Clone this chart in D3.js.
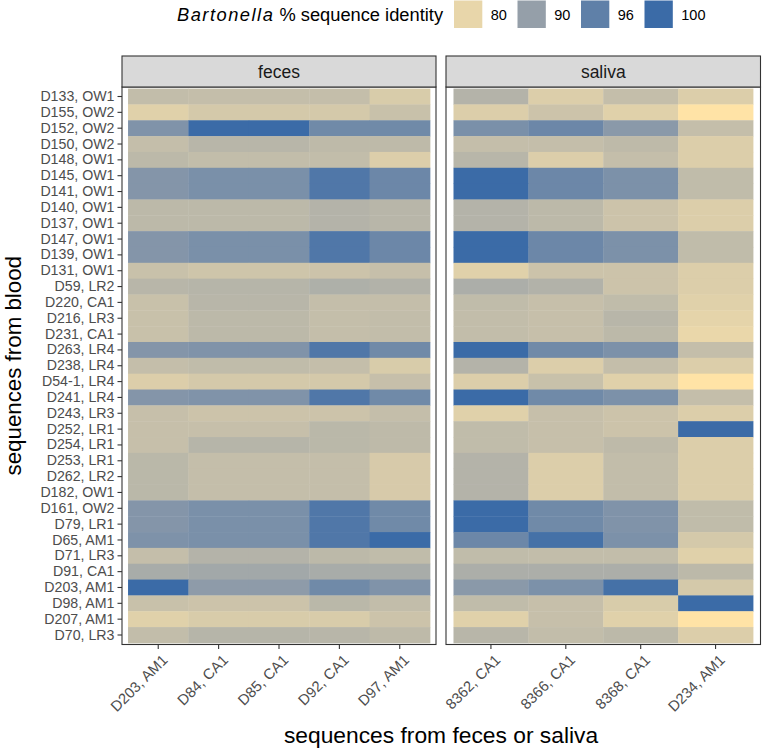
<!DOCTYPE html>
<html>
<head>
<meta charset="utf-8">
<script src="https://cdn.jsdelivr.net/npm/d3@7"></script>
<style>
  body { margin: 0; background: #fff; }
  svg { display: block; font-family: "Liberation Sans", Arial, Helvetica, sans-serif; }
</style>
</head>
<body>
<svg id="chart" width="762" height="752"></svg>
<script>
// ---------------- data ----------------
const rows = ["D133, OW1","D155, OW2","D152, OW2","D150, OW2","D148, OW1","D145, OW1","D141, OW1",
  "D140, OW1","D137, OW1","D147, OW1","D139, OW1","D131, OW1","D59, LR2","D220, CA1","D216, LR3",
  "D231, CA1","D263, LR4","D238, LR4","D54-1, LR4","D241, LR4","D243, LR3","D252, LR1","D254, LR1",
  "D253, LR1","D262, LR2","D182, OW1","D161, OW2","D79, LR1","D65, AM1","D71, LR3","D91, CA1",
  "D203, AM1","D98, AM1","D207, AM1","D70, LR3"];

const fecesCols = ["D203, AM1","D84, CA1","D85, CA1","D92, CA1","D97, AM1"];
const salivaCols = ["8362, CA1","8366, CA1","8368, CA1","D234, AM1"];

// % identity, one inner array per blood row, in column order
const fecesValues = [
  [84.6, 84.3, 84.3, 84.3, 81.9],
  [81.0, 82.4, 82.4, 82.4, 83.9],
  [92.3, 100, 100, 94.1, 94.1],
  [84.3, 85.8, 85.8, 85.1, 85.1],
  [85.3, 84.6, 84.6, 84.6, 81.4],
  [91.9, 93.0, 93.0, 97.7, 94.6],
  [91.9, 93.0, 93.0, 97.7, 94.6],
  [85.3, 85.3, 85.3, 86.3, 85.8],
  [85.3, 85.3, 85.3, 86.3, 85.8],
  [91.9, 93.0, 93.0, 97.7, 94.6],
  [91.9, 93.0, 93.0, 97.7, 94.6],
  [83.9, 83.1, 83.1, 83.4, 84.1],
  [85.8, 86.0, 86.0, 87.0, 86.5],
  [83.9, 85.8, 85.8, 84.3, 84.3],
  [83.9, 85.3, 85.3, 84.3, 84.6],
  [83.9, 85.3, 85.3, 84.3, 84.6],
  [91.9, 92.3, 92.3, 97.7, 94.1],
  [84.3, 84.8, 84.8, 84.3, 81.9],
  [81.4, 82.4, 82.4, 82.4, 84.1],
  [91.9, 92.3, 92.3, 97.7, 94.1],
  [84.1, 83.4, 83.4, 83.4, 84.3],
  [84.1, 84.1, 84.1, 85.5, 85.1],
  [84.1, 86.0, 86.0, 85.5, 85.1],
  [85.5, 84.3, 84.3, 84.3, 82.1],
  [85.5, 84.3, 84.3, 84.3, 82.1],
  [85.5, 84.3, 84.3, 84.3, 82.1],
  [91.9, 93.0, 93.0, 97.7, 94.1],
  [91.9, 93.0, 93.0, 97.7, 94.1],
  [92.6, 93.0, 93.0, 97.7, 100],
  [84.3, 86.3, 86.3, 85.3, 84.8],
  [87.7, 88.4, 88.4, 87.7, 87.7],
  [100, 90.8, 90.8, 94.1, 92.3],
  [83.9, 83.4, 83.4, 85.5, 84.6],
  [81.0, 81.9, 81.9, 81.9, 83.4],
  [84.6, 86.0, 86.0, 85.8, 85.1]
];

const salivaValues = [
  [86.3, 81.4, 84.3, 81.4],
  [81.4, 83.4, 81.0, 77.0],
  [93.0, 94.6, 91.2, 84.3],
  [84.3, 84.3, 85.1, 81.4],
  [85.8, 81.4, 84.3, 81.4],
  [100, 94.6, 92.8, 84.8],
  [100, 94.6, 92.8, 84.8],
  [86.3, 85.3, 83.4, 81.4],
  [86.3, 85.3, 83.4, 81.4],
  [100, 94.6, 92.8, 84.8],
  [100, 94.6, 92.8, 84.8],
  [81.0, 83.4, 83.4, 81.4],
  [87.2, 86.5, 83.4, 81.4],
  [84.8, 84.1, 84.8, 81.0],
  [84.6, 84.1, 85.8, 80.4],
  [84.6, 84.1, 85.3, 79.8],
  [100, 94.1, 92.8, 84.3],
  [86.3, 81.4, 84.3, 81.4],
  [81.4, 83.9, 81.0, 77.0],
  [100, 94.1, 92.8, 84.3],
  [81.0, 84.1, 83.4, 81.4],
  [84.8, 84.1, 83.4, 100],
  [84.8, 84.1, 85.1, 81.4],
  [86.3, 81.4, 84.6, 81.4],
  [86.3, 81.4, 84.6, 81.4],
  [86.3, 81.4, 84.6, 81.4],
  [100, 94.1, 92.3, 84.8],
  [100, 94.1, 92.3, 84.8],
  [94.6, 98.9, 92.8, 82.4],
  [84.8, 84.6, 84.6, 81.0],
  [87.2, 87.2, 87.2, 85.3],
  [91.2, 92.8, 98.9, 82.4],
  [84.8, 84.1, 81.9, 100],
  [81.0, 84.1, 81.0, 77.0],
  [85.8, 84.6, 85.3, 81.4]
];

const legendValues = [80, 90, 96, 100];
const colorStops = [77, 80, 90, 96, 100];
const colorRange = ["#FFE3A6", "#E8D6AA", "#959FA9", "#5F80A8", "#3B6BA7"];

// ---------------- layout ----------------
const svg = d3.select("#chart");
const panelTop = 87, panelBottom = 644.5, stripTop = 56;
const panels = [
  { name: "feces", cols: fecesCols, values: fecesValues, x0: 122, x1: 436 },
  { name: "saliva", cols: salivaCols, values: salivaValues, x0: 446, x1: 760.5 }
];

const color = d3.scaleLinear().domain(colorStops).range(colorRange)
  .interpolate(d3.interpolateRgb).clamp(true);

const y = d3.scaleBand().domain(rows).range([panelTop, panelBottom])
  .paddingInner(0).paddingOuter(0.1);

panels.forEach((p, pi) => {
  const x = d3.scaleBand().domain(p.cols).range([p.x0, p.x1])
    .paddingInner(0).paddingOuter(0.1);
  const cells = [];
  rows.forEach((r, i) => p.cols.forEach((c, j) => cells.push({ r, c, v: p.values[i][j] })));

  const g = svg.append("g");
  g.selectAll("rect.cell").data(cells).enter().append("rect")
    .attr("class", "cell")
    .attr("x", d => x(d.c))
    .attr("y", d => y(d.r))
    .attr("width", x.bandwidth() + 0.4)
    .attr("height", y.bandwidth() + 0.4)
    .attr("fill", d => color(d.v));

  // panel border
  g.append("rect").attr("x", p.x0).attr("y", panelTop)
    .attr("width", p.x1 - p.x0).attr("height", panelBottom - panelTop)
    .attr("fill", "none").attr("stroke", "#333333").attr("stroke-width", 1.1);

  // strip
  g.append("rect").attr("x", p.x0).attr("y", stripTop)
    .attr("width", p.x1 - p.x0).attr("height", panelTop - stripTop)
    .attr("fill", "#D9D9D9").attr("stroke", "#333333").attr("stroke-width", 1.1);
  g.append("text").attr("x", (p.x0 + p.x1) / 2).attr("y", (stripTop + panelTop) / 2)
    .attr("dy", "0.35em").attr("text-anchor", "middle")
    .attr("font-size", 17.5).attr("fill", "#1A1A1A").text(p.name);

  // x axis
  const xa = svg.append("g").attr("transform", `translate(0,${panelBottom})`)
    .call(d3.axisBottom(x).tickSize(4.5).tickPadding(2));
  xa.select(".domain").remove();
  xa.selectAll(".tick line").attr("stroke", "#333333").attr("stroke-width", 1.1);
  xa.selectAll(".tick text")
    .attr("font-size", 14.8).attr("fill", "#4D4D4D")
    .attr("text-anchor", "end")
    .attr("x", 0).attr("y", 0).attr("dy", "0.7em")
    .attr("transform", "translate(3,9) rotate(-45)");

  if (pi === 0) {
    const ya = svg.append("g").attr("transform", `translate(${p.x0},0)`)
      .call(d3.axisLeft(y).tickSize(4.5).tickPadding(3));
    ya.select(".domain").remove();
    ya.selectAll(".tick line").attr("stroke", "#333333").attr("stroke-width", 1.1);
    ya.selectAll(".tick text").attr("font-size", 14.2).attr("fill", "#4D4D4D");
  }
});

// axis titles
svg.append("text").attr("x", 441).attr("y", 743).attr("text-anchor", "middle")
  .attr("font-size", 22.8).attr("fill", "#000").text("sequences from feces or saliva");
svg.append("text").attr("transform", `translate(20.5,${(panelTop + panelBottom) / 2}) rotate(-90)`)
  .attr("text-anchor", "middle").attr("font-size", 22.3).attr("fill", "#000")
  .text("sequences from blood");

// legend
const lg = svg.append("g");
const title = lg.append("text").attr("x", 177).attr("y", 20.5).attr("font-size", 18.3).attr("fill", "#000");
title.append("tspan").attr("font-style", "italic").attr("letter-spacing", 1.5).text("Bartonella");
title.append("tspan").text(" % sequence identity");
const keyX0 = 454, keyStep = 63.5, keyW = 28.3;
legendValues.forEach((v, i) => {
  lg.append("rect").attr("x", keyX0 + i * keyStep).attr("y", 0.5)
    .attr("width", keyW).attr("height", 27.5).attr("fill", color(v));
  lg.append("text").attr("x", keyX0 + i * keyStep + keyW + 8.5).attr("y", 14.5)
    .attr("dy", "0.35em").attr("font-size", 14.5).attr("fill", "#000").text(v);
});
</script>
</body>
</html>
